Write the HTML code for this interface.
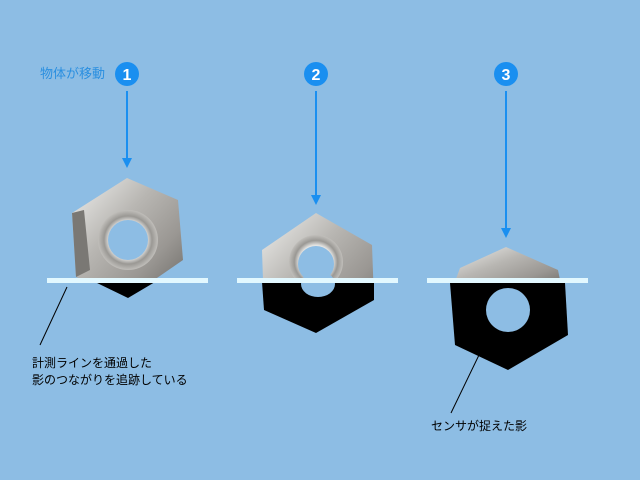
<!DOCTYPE html>
<html><head><meta charset="utf-8"><style>
html,body{margin:0;padding:0;background:#8dbde4;}
svg{display:block}
text{font-family:"Liberation Sans","Noto Sans CJK JP",sans-serif;}
</style></head><body>
<svg width="640" height="480" viewBox="0 0 640 480">
<defs>
<linearGradient id="m" x1="0" y1="0" x2="1" y2="1">
<stop offset="0" stop-color="#f0f0ee"/><stop offset="0.4" stop-color="#b8b6b2"/><stop offset="0.7" stop-color="#9a9793"/><stop offset="1" stop-color="#6a6864"/></linearGradient>
<radialGradient id="r" cx="0.5" cy="0.5" r="0.5">
<stop offset="0.62" stop-color="#e4e4e2"/><stop offset="0.8" stop-color="#9a9894"/><stop offset="1" stop-color="#c0beba"/></radialGradient>
<clipPath id="c1"><rect x="0" y="0" width="640" height="281"/></clipPath>
</defs>
<rect width="640" height="480" fill="#8dbde4"/>
<text x="40" y="78" font-size="13" fill="#2a8fe0">物体が移動</text>
<g fill="#1a8ff0"><circle cx="127" cy="74" r="12"/><circle cx="316" cy="74" r="12"/><circle cx="506" cy="74" r="12"/></g>
<g fill="#fff" font-size="16" font-weight="bold" text-anchor="middle"><text x="127" y="80">1</text><text x="316" y="80">2</text><text x="506" y="80">3</text></g>
<g stroke="#1a8ff0" stroke-width="2"><line x1="127" y1="91" x2="127" y2="160"/><line x1="316" y1="91" x2="316" y2="197"/><line x1="506" y1="91" x2="506" y2="230"/></g>
<g fill="#1a8ff0"><path d="M122 158L132 158L127 168Z"/><path d="M311 195L321 195L316 205Z"/><path d="M501 228L511 228L506 238Z"/></g>
<path d="M95 282L155 282L128 298Z" fill="#000"/>
<g clip-path="url(#c1)">
<path d="M127 178L178 200L183 260L128 298L76 277L72 213Z" fill="url(#m)"/>
<path d="M72 213L84 210L90 270L76 277Z" fill="#7a7874"/>
<circle cx="128" cy="240" r="30" fill="url(#r)"/>
<circle cx="128" cy="240" r="20" fill="#8dbde4"/>
<path d="M316 213L372 245L374 300L316 333L264 310L262 250Z" fill="url(#m)"/>
<circle cx="316" cy="262" r="27" fill="url(#r)"/>
<circle cx="316" cy="264" r="18" fill="#8dbde4"/>
<path d="M506 247L558 270L562 290L452 290L460 268Z" fill="url(#m)"/>
</g>
<path d="M262 282L374 282L374 300L316 333L264 310Z" fill="#000"/>
<ellipse cx="318" cy="284" rx="17" ry="13" fill="#8dbde4"/>
<path d="M450 283L565 283L568 335L508 370L455 345Z" fill="#000"/>
<ellipse cx="508" cy="310" rx="22" ry="22" fill="#8dbde4"/>
<g fill="#e2f8ff"><rect x="47" y="278" width="161" height="5"/><rect x="237" y="278" width="161" height="5"/><rect x="427" y="278" width="161" height="5"/></g>
<g stroke="#000" stroke-width="1"><line x1="67" y1="287" x2="40" y2="345"/><line x1="479" y1="355" x2="451" y2="413"/></g>
<g font-size="12" fill="#000"><text x="32" y="367">計測ラインを通過した</text><text x="32" y="384">影のつながりを追跡している</text><text x="431" y="430">センサが捉えた影</text></g>
</svg>
</body></html>
